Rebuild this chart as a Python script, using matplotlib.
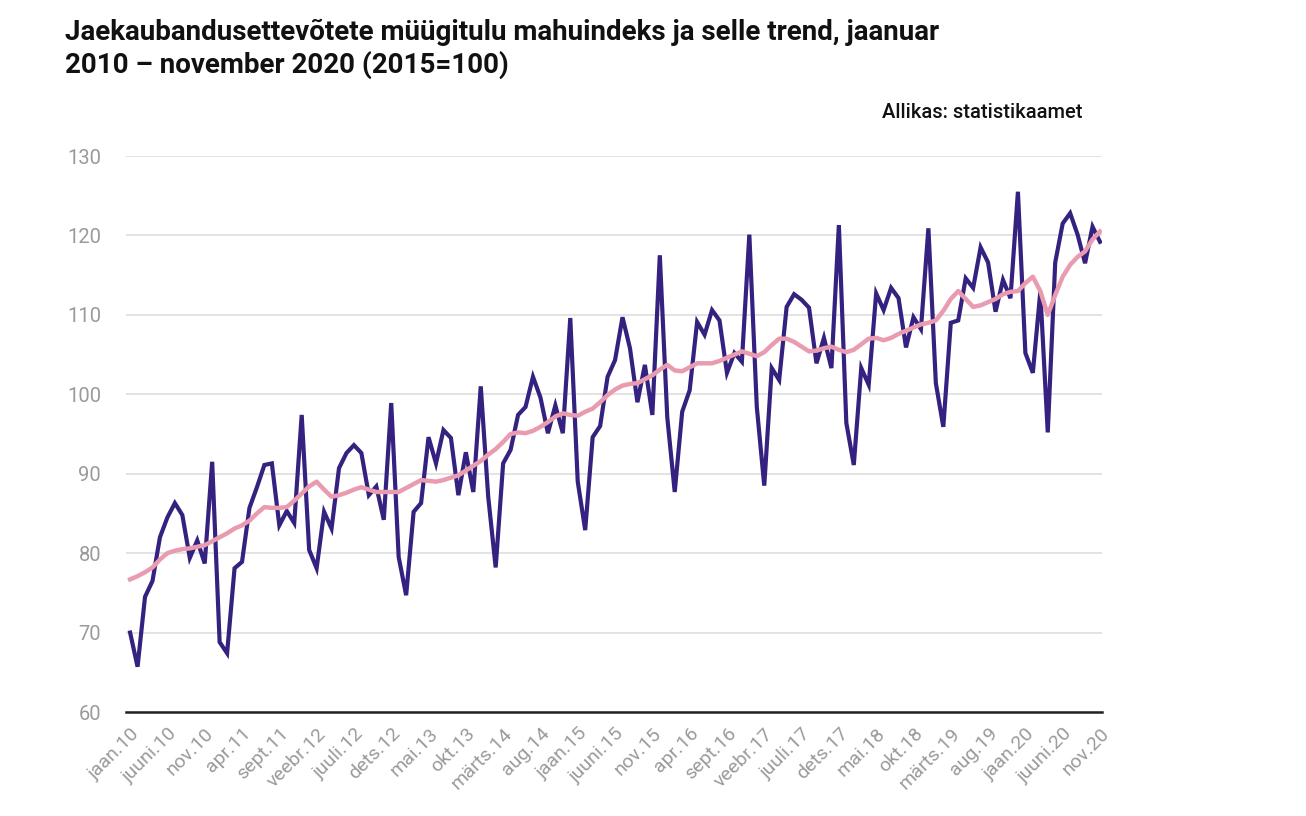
import matplotlib
matplotlib.use("Agg")
import matplotlib.pyplot as plt

plt.rcParams['font.family'] = ['Roboto', 'DejaVu Sans']

tick_labels = ["jaan.10", "juuni.10", "nov.10", "apr.11", "sept.11", "veebr.12", "juuli.12",
               "dets.12", "mai.13", "okt.13", "märts.14", "aug.14", "jaan.15", "juuni.15",
               "nov.15", "apr.16", "sept.16", "veebr.17", "juuli.17", "dets.17", "mai.18",
               "okt.18", "märts.19", "aug.19", "jaan.20", "juuni.20", "nov.20"]

index_values = [
    70.0, 65.7, 74.5, 76.5, 82.0, 84.5, 86.3, 84.8, 79.4, 81.6,
    78.7, 91.5, 68.8, 67.4, 78.1, 78.9, 85.7, 88.3, 91.1, 91.3,
    83.5, 85.3, 83.8, 97.4, 80.4, 78.1, 85.2, 83.1, 90.7, 92.6,
    93.6, 92.6, 87.3, 88.4, 84.2, 98.9, 79.5, 74.7, 85.2, 86.3,
    94.6, 91.3, 95.5, 94.5, 87.3, 92.7, 87.7, 101.0, 87.1, 78.2,
    91.3, 93.0, 97.4, 98.4, 102.2, 99.6, 95.1, 98.6, 95.1, 109.6,
    89.0, 82.9, 94.6, 96.0, 102.2, 104.3, 109.7, 105.8, 99.0, 103.7,
    97.4, 117.5, 97.1, 87.7, 97.8, 100.5, 109.1, 107.5, 110.6, 109.3,
    102.7, 105.2, 104.1, 120.1, 98.4, 88.5, 103.3, 101.8, 111.0, 112.6,
    111.9, 110.9, 103.9, 107.1, 103.3, 121.3, 96.4, 91.1, 103.3, 101.2,
    112.7, 110.6, 113.4, 112.1, 105.9, 109.7, 108.2, 120.9, 101.4, 95.9,
    109.0, 109.3, 114.6, 113.4, 118.5, 116.6, 110.4, 114.4, 112.1, 125.5,
    105.2, 102.7, 112.9, 95.2, 116.6, 121.5, 122.8, 120.1, 116.5, 121.1,
    119.2]

trend_values = [
    76.7, 77.1, 77.6, 78.2, 79.2, 80.0, 80.3, 80.5, 80.6, 80.8,
    81.0, 81.5, 82.0, 82.5, 83.1, 83.5, 84.1, 85.0, 85.8, 85.7,
    85.7, 85.8, 86.6, 87.5, 88.4, 89.0, 88.0, 87.1, 87.3, 87.6,
    88.0, 88.3, 88.0, 87.7, 87.7, 87.7, 87.7, 88.2, 88.7, 89.2,
    89.1, 89.0, 89.2, 89.5, 89.8, 90.4, 91.0, 91.6, 92.4, 93.1,
    94.0, 95.0, 95.2, 95.1, 95.4, 95.9, 96.5, 97.2, 97.6, 97.4,
    97.3, 97.8, 98.2, 99.0, 99.9, 100.6, 101.1, 101.3, 101.4, 101.9,
    102.4, 103.1, 103.7, 103.0, 102.9, 103.4, 103.9, 103.9, 103.9, 104.2,
    104.6, 105.0, 105.4, 105.1, 104.8, 105.3, 106.2, 107.0, 107.0, 106.6,
    106.0, 105.4, 105.5, 105.8, 106.0, 105.6, 105.3, 105.6, 106.3, 107.0,
    107.1, 106.8, 107.1, 107.6, 108.0, 108.4, 108.8, 109.0, 109.3, 110.5,
    112.0, 113.0, 112.0, 111.0, 111.2, 111.6, 112.0, 112.6, 112.9, 113.0,
    114.0, 114.8, 113.0, 110.0, 112.5, 114.8, 116.3, 117.3, 118.0, 119.5,
    120.5]

y_ticks = [60, 70, 80, 90, 100, 110, 120, 130]

fig = plt.figure(figsize=(13.06, 8.16), dpi=100)
ax = fig.add_axes([126/1306, 1-712/816, (1102-126)/1306, (712-156)/816])

x = list(range(len(index_values)))
ax.plot(x, index_values, color="#35217f", lw=3.0, solid_joinstyle='miter', zorder=3)
ax.plot(x, trend_values, color="#e99bb0", lw=3.2, zorder=4)

ax.set_xlim(-0.55, 130.27)
ax.set_ylim(60, 130)
ax.set_yticks(y_ticks)
ax.set_yticklabels([str(v) for v in y_ticks], color="#9a9a9a", fontsize=14.5)
ax.yaxis.grid(True, color="#dedede", lw=1.2)
ax.set_axisbelow(True)
ax.tick_params(axis='y', length=0, pad=18)

tick_pos = list(range(0, len(index_values), 5))
ax.set_xticks(tick_pos)
ax.set_xticklabels(tick_labels, rotation=45, ha='right', va='top',
                   rotation_mode='anchor', color="#9a9a9a", fontsize=14)
ax.tick_params(axis='x', length=0, pad=9)

for s in ['top', 'right', 'left']:
    ax.spines[s].set_visible(False)
ax.spines['bottom'].set_color("#222222")
ax.spines['bottom'].set_linewidth(1.8)

fig.text(65/1306, 1-19/816,
         "Jaekaubandusettevõtete müügitulu mahuindeks ja selle trend, jaanuar\n2010 – november 2020 (2015=100)",
         ha='left', va='top', fontsize=20, fontweight='bold', color="#111111", linespacing=1.2)
fig.text(1083/1306, 1-112/816, "Allikas: statistikaamet", ha='right', va='center',
         fontsize=14.5, fontweight='medium', color="#111111")

fig.savefig("out.png", dpi=100)
